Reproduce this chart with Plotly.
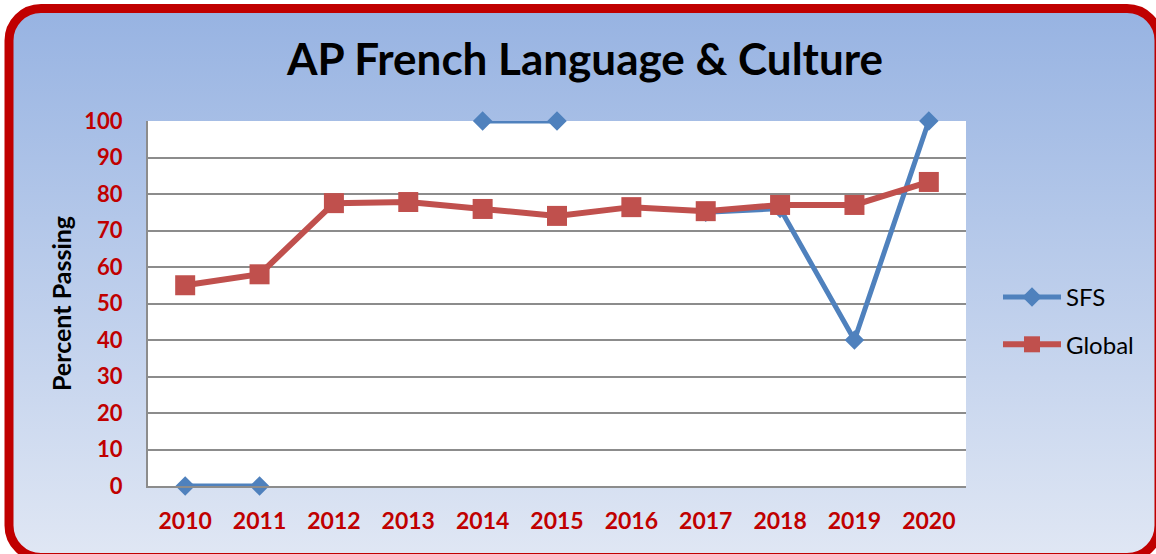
import base64
import plotly.graph_objects as go

years = ["2010", "2011", "2012", "2013", "2014", "2015", "2016", "2017", "2018", "2019", "2020"]
sfs = [0, 0, None, None, 100, 100, None, 75, 76, 40, 100]
global_vals = [55, 58, 77.5, 77.8, 75.9, 74, 76.4, 75.3, 77, 77, 83.3]
y_ticks = [0, 10, 20, 30, 40, 50, 60, 70, 80, 90, 100]

W, H = 1156, 554
FONT = "Lato"

svg = f'''<svg xmlns="http://www.w3.org/2000/svg" width="{W}" height="{H}" viewBox="0 0 {W} {H}">
<defs><linearGradient id="g" x1="0" y1="0" x2="0" y2="1">
<stop offset="0" stop-color="#97B3E2"/><stop offset="1" stop-color="#E0E7F4"/>
</linearGradient></defs>
<rect x="9" y="8.5" width="1150" height="549" rx="32" ry="32" fill="url(#g)" stroke="#C00000" stroke-width="9"/>
</svg>'''
src = "data:image/svg+xml;base64," + base64.b64encode(svg.encode()).decode()

fig = go.Figure()
fig.add_trace(go.Scatter(
    x=years, y=sfs, name="SFS", mode="lines+markers", connectgaps=False,
    line=dict(color="#4F81BD", width=5),
    marker=dict(symbol="diamond", size=15, color="#4F81BD"),
    cliponaxis=False, legendgroup="a"))
fig.add_trace(go.Scatter(
    x=years, y=global_vals, name="Global", mode="lines+markers",
    line=dict(color="#C0504D", width=6),
    marker=dict(symbol="square", size=20, color="#C0504D"),
    cliponaxis=False, legendgroup="b"))

fig.update_layout(
    width=W, height=H,
    margin=dict(l=0, r=0, t=0, b=0, autoexpand=False),
    paper_bgcolor="white", plot_bgcolor="white",
    images=[dict(source=src, xref="paper", yref="paper", x=0, y=1, sizex=1, sizey=1,
                 xanchor="left", yanchor="top", sizing="stretch", layer="below")],
    shapes=[dict(type="rect", xref="x domain", yref="y domain", x0=0, x1=1, y0=0, y1=1,
                 fillcolor="white", line=dict(width=0), layer="below")],
    title=dict(text="<b>AP French Language &amp; Culture</b>", x=585 / W, xanchor="center",
               y=1 - 60 / H, yanchor="middle", automargin=False,
               font=dict(family=FONT, size=44, color="black")),
    xaxis=dict(type="category", range=[-0.5, 10.5], domain=[148 / W, 966 / W],
               automargin=False,
               showgrid=False, showline=True, linecolor="#8C8C8C", linewidth=2,
               tickfont=dict(family=FONT, size=23, color="#C00000", weight="bold"),
               ticklabelstandoff=13, ticks=""),
    yaxis=dict(range=[0, 100], domain=[(H - 486) / H, (H - 121) / H],
               automargin=False,
               tickvals=y_ticks, showgrid=True, gridcolor="#8C8C8C", gridwidth=2,
               showline=True, linecolor="#8C8C8C", linewidth=2, zeroline=False,
               tickfont=dict(family=FONT, size=22, color="#C00000", weight="bold"),
               ticklabelstandoff=19, ticks="",
               title=dict(text="<b>Percent Passing</b>", standoff=6,
                          font=dict(family=FONT, size=25, color="black"))),
    legend=dict(x=998 / W, xanchor="left", y=1 - 321 / H, yanchor="middle",
                font=dict(family=FONT, size=24, color="black"),
                bgcolor="rgba(0,0,0,0)", tracegroupgap=13, itemwidth=58),
    showlegend=True,
)

fig.write_html("out.html", config={"displayModeBar": False},
               post_script="document.body.style.margin='0';document.body.style.overflow='hidden';")
